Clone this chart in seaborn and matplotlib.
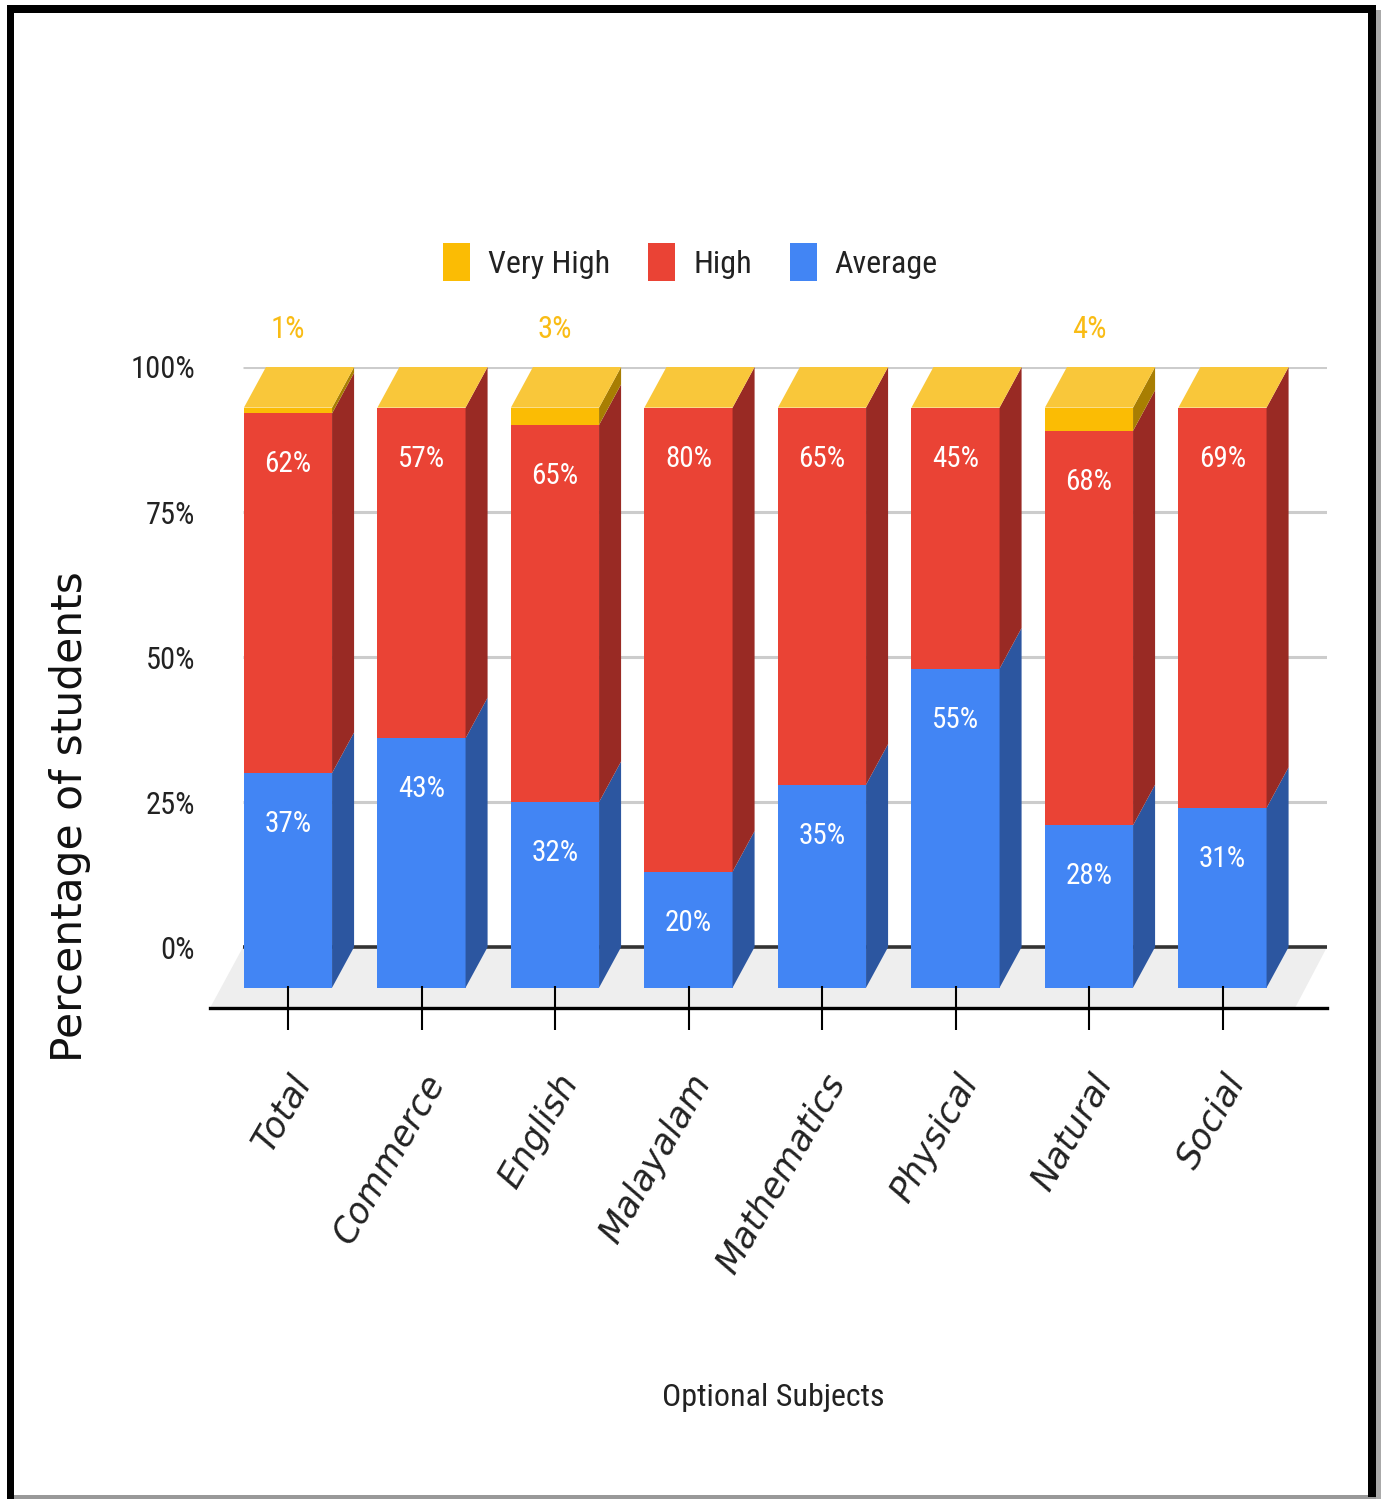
import numpy as np
import pandas as pd
import matplotlib
matplotlib.use("Agg")
import matplotlib.pyplot as plt
import seaborn as sns
from matplotlib import font_manager
from matplotlib.patches import Polygon, Rectangle, Patch

# ---------------- data ----------------
categories = ["Total", "Commerce", "English", "Malayalam", "Mathematics",
              "Physical", "Natural", "Social"]
average = [37, 43, 32, 20, 35, 55, 28, 31]
high = [62, 57, 65, 80, 65, 45, 68, 69]
very_high = [1, 0, 3, 0, 0, 0, 4, 0]
y_ticks = [0, 25, 50, 75, 100]
y_tick_labels = ["0%", "25%", "50%", "75%", "100%"]
series_names = ["Very High", "High", "Average"]
x_title = "Optional Subjects"
y_title = "Percentage of students"

colors = {"Very High": "#FBBC04", "High": "#EA4335", "Average": "#4285F4"}
side_colors = {"Very High": "#A87E02", "High": "#992A24", "Average": "#2C56A0"}
top_color = "#F9C73A"

# ---------------- style ----------------
sns.set_theme(style="white")
avail = {f.name for f in font_manager.fontManager.ttflist}


def pick(cands):
    for c in cands:
        if c in avail:
            return c
    return "DejaVu Sans"


NARROW = pick(["Roboto Condensed", "Liberation Sans Narrow", "Arial Narrow",
               "Liberation Sans"])
plt.rcParams["font.family"] = [NARROW, "DejaVu Sans"]

W, H = 1381, 1499
fig = plt.figure(figsize=(W / 100, H / 100), dpi=100)
fig.patch.set_facecolor("white")

# axes placed so that y=100 -> px 367, y=-10.5 -> px 1008
ax = fig.add_axes([210 / W, 1 - 1008 / H, (1327 - 210) / W, (1008 - 367) / H])
PXC = 133.5
XL, XR = (210 - 288) / PXC, (1327 - 288) / PXC
YB, YT = -10.5, 100
DX, DY = 0.165, 7.0
BW = 0.66
GX0 = (243 - 288) / PXC
FXR = (1295 - 288) / PXC

df = pd.DataFrame({"Subject": categories, "Average": average,
                   "High": high, "Very High": very_high})
df["cum_avg"] = df["Average"]
df["cum_high"] = df["Average"] + df["High"]
df["cum_vh"] = df["cum_high"] + df["Very High"]

order_cols = [("cum_vh", "Very High"), ("cum_high", "High"), ("cum_avg", "Average")]
for col, name in order_cols:
    sns.barplot(data=df, x="Subject", y=col, color=colors[name], width=BW,
                bottom=-DY, saturation=1, errorbar=None, ax=ax, zorder=3,
                linewidth=0, order=categories)

# read the front-face geometry back from the drawn bars
tops = {}
xl_list, xr_list = None, None
for (col, name), cont in zip(order_cols, ax.containers):
    tops[name] = [r.get_y() + r.get_height() for r in cont.patches]
    xl_list = [r.get_x() for r in cont.patches]
    xr_list = [r.get_x() + r.get_width() for r in cont.patches]

bounds = {
    "Average": (lambda i: -DY, lambda i: tops["Average"][i]),
    "High": (lambda i: tops["Average"][i], lambda i: tops["High"][i]),
    "Very High": (lambda i: tops["High"][i], lambda i: tops["Very High"][i]),
}

for i in range(len(categories)):
    xl, xr = xl_list[i], xr_list[i]
    for name in ["Average", "High", "Very High"]:
        b, t = bounds[name][0](i), bounds[name][1](i)
        if t - b <= 0:
            continue
        ax.add_patch(Polygon([(xr, b), (xr + DX, b + DY), (xr + DX, t + DY), (xr, t)],
                             closed=True, facecolor=side_colors[name],
                             edgecolor="none", zorder=3))
    T = tops["Very High"][i]
    ax.add_patch(Polygon([(xl, T), (xl + DX, T + DY), (xr + DX, T + DY), (xr, T)],
                         closed=True, facecolor=top_color, edgecolor="none", zorder=3))

    # data labels
    xc = (xl + xr) / 2
    vals = {"Average": average[i], "High": high[i], "Very High": very_high[i]}
    for name in ["Average", "High"]:
        t = bounds[name][1](i)
        ax.text(xc, t - 8.8, f"{vals[name]}%", ha="center", va="center",
                color="white", fontsize=21, zorder=5)
    if very_high[i] > 0:
        ax.text(xc, 106.4, f"{very_high[i]}%", ha="center", va="center",
                color="#F9BC15", fontsize=22, zorder=5, clip_on=False)

# floor, gridlines, zero line
ax.add_patch(Polygon([(GX0, 0), (XR, 0), (FXR, YB), (XL, YB)], closed=True,
                     facecolor="#EEEEEE", edgecolor="none", zorder=0.2))
ax.hlines([25, 50, 75, 100], GX0, XR, color="#CCCCCC", lw=2.2, zorder=1)
ax.hlines(0, GX0, XR, color="#333333", lw=2.6, zorder=2)

ax.set_xlim(XL, XR)
ax.set_ylim(YB, YT)
ax.set_xlabel("")
ax.set_ylabel("")
ax.set_facecolor("none")
ax.set_axisbelow(False)
for s in ["top", "right", "left"]:
    ax.spines[s].set_visible(False)
ax.spines["bottom"].set_visible(True)
ax.spines["bottom"].set_color("black")
ax.spines["bottom"].set_linewidth(2.4)

ax.set_yticks(y_ticks)
ax.set_yticklabels(y_tick_labels)
ax.tick_params(axis="y", length=0, pad=10.8, labelsize=22, labelcolor="#222222")

ax.set_xticks(range(len(categories)))
ax.set_xticklabels([""] * len(categories))
ax.tick_params(axis="x", direction="inout", length=32, width=1.5, color="black",
               bottom=True)
ax.xaxis.set_zorder(4)

for i, c in enumerate(categories):
    ax.text(i + 0.11, -22.4, c, rotation=60, rotation_mode="anchor",
            ha="right", va="center", fontsize=25, style="italic",
            family="DejaVu Sans", color="#222222", clip_on=False)

# titles
fig.text(773 / W, 1 - 1397 / H, x_title, ha="center", va="center",
         fontsize=23, color="#222222")
fig.text(70 / W, 1 - 817 / H, y_title, ha="center", va="center", rotation=90,
         fontsize=30.5, family="DejaVu Sans", color="#111111")

# legend
handles = [Patch(facecolor=colors[n], edgecolor="none", label=n) for n in series_names]
fig.legend(handles=handles, loc="center", bbox_to_anchor=(0.5, 1 - 262 / H),
           ncol=3, frameon=False, fontsize=23, handlelength=0.85,
           handleheight=1.5, handletextpad=0.55, columnspacing=1.2,
           labelcolor="#222222")

# outer frame
def rect_px(x0, y0, x1, y1, color):
    fig.add_artist(Rectangle((x0 / W, 1 - y1 / H), (x1 - x0) / W, (y1 - y0) / H,
                             transform=fig.transFigure, facecolor=color,
                             edgecolor="none", zorder=10))


rect_px(1376, 10, 1381, 1499, "#AAAAAA")
rect_px(14, 1495, 1376, 1499, "#999999")
rect_px(7, 5, 14, 1499, "black")
rect_px(7, 5, 1376, 13, "black")
rect_px(1368, 5, 1376, 1497, "black")

fig.savefig("out.png", dpi=100, facecolor="white")
